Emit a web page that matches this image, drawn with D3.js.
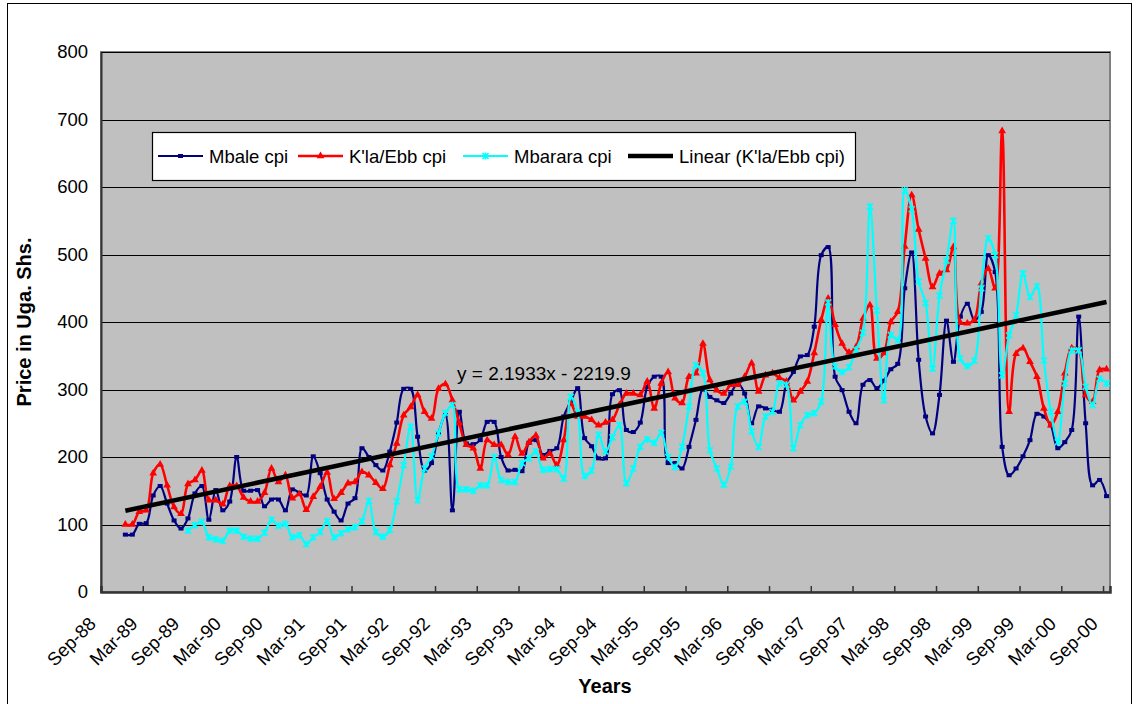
<!DOCTYPE html>
<html>
<head>
<meta charset="utf-8">
<script src="https://cdn.jsdelivr.net/npm/d3@7"></script>
<style>
  html, body { margin: 0; padding: 0; background: #fff; }
  svg { display: block; }
  text { font-family: "Liberation Sans", Arial, sans-serif; fill: #000; }
</style>
</head>
<body>
<svg id="chart" width="1139" height="704"></svg>
<script>
// Category axis: one slot per month, Sep-88 .. Sep-00 (145 months)
const axisStart = { year: 1988, month: 8 };   // Sep-88, month is 0-based
const monthCount = 145;
const tickLabels = ["Sep-88","Mar-89","Sep-89","Mar-90","Sep-90","Mar-91","Sep-91","Mar-92",
  "Sep-92","Mar-93","Sep-93","Mar-94","Sep-94","Mar-95","Sep-95","Mar-96","Sep-96","Mar-97",
  "Sep-97","Mar-98","Sep-98","Mar-99","Sep-99","Mar-00","Sep-00"];
const yTicks = [0, 100, 200, 300, 400, 500, 600, 700, 800];

// Monthly prices (Uga. Shs.), first value is Dec-88 (slot 3)
const seriesStart = 3;
const mbale = [85,85,101,102,143,157,131,106,94,109,146,157,107,151,121,134,200,150,150,151,
  127,137,137,121,152,147,143,201,176,137,119,106,131,139,213,200,188,180,208,251,
  301,301,230,180,191,235,262,121,267,220,219,225,252,252,200,180,181,179,221,225,
  203,209,213,260,282,302,228,216,198,198,293,299,240,237,251,304,319,319,191,191,183,
  215,255,300,289,284,280,294,309,294,250,275,272,270,267,309,326,349,351,393,499,511,
  319,299,267,250,307,314,302,313,330,338,450,503,344,260,235,292,402,341,408,427,403,
  415,499,474,215,173,183,201,225,264,260,247,213,222,240,408,250,158,166,142];
const kla = [100,100,119,121,176,189,158,126,116,160,166,180,136,136,130,157,157,140,134,134,
  147,183,163,173,139,145,122,141,156,177,138,147,161,163,178,173,162,153,188,220,
  262,274,292,267,257,301,308,284,250,218,213,183,225,218,218,203,230,205,222,232,
  198,205,188,225,279,260,260,255,247,251,255,277,294,294,292,312,272,309,326,287,280,
  319,324,368,314,299,294,307,307,319,339,297,321,324,317,312,284,297,312,354,403,435,
  396,368,355,363,405,425,346,354,400,415,512,588,537,494,452,472,477,511,399,398,403,
  457,479,450,683,267,353,361,341,319,272,247,267,324,361,358,292,282,329,330];
const mbarara = [null,null,null,null,null,null,null,null,null,
  91,99,104,81,78,76,91,91,82,79,79,
  88,107,98,101,81,84,71,81,89,105,81,87,93,96,105,135,89,82,92,134,
  188,245,136,183,201,235,265,277,152,152,150,158,158,200,166,163,163,191,198,208,
  181,182,182,168,289,266,172,180,233,208,229,247,161,183,215,226,221,236,200,185,215,
  275,336,324,210,183,159,186,275,282,238,215,260,267,309,307,213,247,262,265,282,429,
  334,326,333,359,384,571,417,284,381,373,595,567,460,428,331,439,491,550,346,335,343,
  450,524,499,321,380,410,472,437,453,343,267,222,309,358,358,304,277,316,309];

// Linear trend of the K'la/Ebb series; x counts months from Jan-1900
const trendSlope = 2.1933;
const trendIntercept = -2219.9;
const trendLabel = "y = 2.1933x - 2219.9";

const legendNames = ["Mbale cpi", "K'la/Ebb cpi", "Mbarara cpi", "Linear (K'la/Ebb cpi)"];

const svg = d3.select("#chart");
const plot = { left: 101, right: 1110, top: 52, bottom: 592 };

const x = d3.scaleLinear().domain([0, monthCount]).range([plot.left, plot.right]);
const y = d3.scaleLinear().domain([0, 800]).range([plot.bottom, plot.top]);
const cx = i => x(i + 0.5);

// outer chart frame
svg.append("rect").attr("x", 7.5).attr("y", 3.5).attr("width", 1124).attr("height", 720)
  .attr("fill", "#fff").attr("stroke", "#000").attr("stroke-width", 1);

// plot background
svg.append("rect").attr("x", plot.left).attr("y", plot.top)
  .attr("width", plot.right - plot.left).attr("height", plot.bottom - plot.top)
  .attr("fill", "#c0c0c0").attr("stroke", "#808080").attr("stroke-width", 2);

// horizontal gridlines
svg.append("g").selectAll("line").data(yTicks.filter(d => d > 0)).join("line")
  .attr("x1", plot.left).attr("x2", plot.right)
  .attr("y1", d => Math.round(y(d)) + 0.5).attr("y2", d => Math.round(y(d)) + 0.5)
  .attr("stroke", "#000").attr("stroke-width", 1.2);

// y axis
const yAxis = d3.axisLeft(y).tickValues(yTicks).tickSize(0).tickPadding(13);
const gy = svg.append("g").attr("transform", `translate(${plot.left},0)`).call(yAxis);
gy.select(".domain").attr("stroke", "#333").attr("stroke-width", 2);
gy.selectAll("text").style("font-size", "18.5px").attr("font-family", null);

// x axis: ticks every six months, drawn inward
const tickIdx = tickLabels.map((_, k) => k * 6);
const xAxis = d3.axisBottom(x).tickValues(tickIdx).tickSize(-6).tickFormat("");
const gx = svg.append("g").attr("transform", `translate(0,${plot.bottom})`).call(xAxis);
gx.select(".domain").attr("stroke", "#333").attr("stroke-width", 2.5);
gx.selectAll(".tick line").attr("stroke", "#333").attr("stroke-width", 1.5);

svg.append("g").selectAll("text").data(tickLabels).join("text")
  .attr("transform", (d, k) => `translate(${x(tickIdx[k]) - 4},${plot.bottom + 33}) rotate(-45)`)
  .attr("text-anchor", "end")
  .style("font-size", "18.5px")
  .text(d => d);

// axis titles
svg.append("text").attr("x", 605).attr("y", 693).attr("text-anchor", "middle")
  .style("font-size", "20px").style("font-weight", "bold").text("Years");
svg.append("text").attr("transform", "translate(31,322) rotate(-90)").attr("text-anchor", "middle")
  .style("font-size", "20px").style("font-weight", "bold").text("Price in Uga. Shs.");

// series
const curve = d3.curveCatmullRom.alpha(0.5);
const toPoints = arr => arr.map((v, k) => ({ i: k + seriesStart, v }));
const lineGen = d3.line().defined(d => d.v != null).x(d => cx(d.i)).y(d => y(d.v)).curve(curve);

const series = [
  { name: legendNames[0], data: mbale, color: "#000080", width: 2.2, marker: "square" },
  { name: legendNames[1], data: kla, color: "#ff0000", width: 2.6, marker: "triangle" },
  { name: legendNames[2], data: mbarara, color: "#00ffff", width: 2.2, marker: "star" }
];

function drawMarker(g, type, color) {
  if (type === "square") {
    g.append("rect").attr("x", -2.5).attr("y", -2).attr("width", 5).attr("height", 4).attr("fill", color);
  } else if (type === "triangle") {
    g.append("path").attr("d", d3.symbol(d3.symbolTriangle, 26)()).attr("fill", color);
  } else {
    g.append("path").attr("d", "M-3,-3L3,3M-3,3L3,-3M0,-3.5L0,3.5")
      .attr("stroke", color).attr("stroke-width", 1.6).attr("fill", "none");
  }
}

series.forEach(s => {
  const pts = toPoints(s.data);
  svg.append("path").datum(pts).attr("d", lineGen)
    .attr("fill", "none").attr("stroke", s.color).attr("stroke-width", s.width)
    .attr("stroke-linejoin", "round");
  const mg = svg.append("g");
  pts.filter(d => d.v != null).forEach(d => {
    const g = mg.append("g").attr("transform", `translate(${cx(d.i)},${y(d.v)})`);
    drawMarker(g, s.marker, s.color);
  });
});

// trend line across the K'la/Ebb months
const firstI = seriesStart, lastI = seriesStart + kla.length - 1;
const monthNo = i => (axisStart.year - 1900) * 12 + axisStart.month + i;
const trendPts = [firstI, lastI].map(i => ({ i, v: trendSlope * monthNo(i) + trendIntercept }));
svg.append("path").datum(trendPts)
  .attr("d", d3.line().x(d => cx(d.i)).y(d => y(d.v)))
  .attr("stroke", "#000").attr("stroke-width", 4.5).attr("fill", "none");

svg.append("text").attr("x", 457).attr("y", 380).style("font-size", "19px").text(trendLabel);

// legend
const lg = svg.append("g");
lg.append("rect").attr("x", 152.5).attr("y", 132.5).attr("width", 703).attr("height", 48)
  .attr("fill", "#fff").attr("stroke", "#000").attr("stroke-width", 1.2);
const legendX = [158, 298, 463, 628];
const legendItems = [
  { color: "#000080", width: 2.2, marker: "square" },
  { color: "#ff0000", width: 2.6, marker: "triangle" },
  { color: "#00ffff", width: 2.2, marker: "star" },
  { color: "#000", width: 4.5, marker: null }
];
legendItems.forEach((it, k) => {
  const g = lg.append("g").attr("transform", `translate(${legendX[k]},156)`);
  g.append("line").attr("x1", 0).attr("x2", 45).attr("stroke", it.color).attr("stroke-width", it.width);
  if (it.marker) drawMarker(g.append("g").attr("transform", "translate(22.5,0)"), it.marker, it.color);
  g.append("text").attr("x", 51).attr("y", 6.5).style("font-size", "18.5px").text(legendNames[k]);
});
</script>
</body>
</html>
